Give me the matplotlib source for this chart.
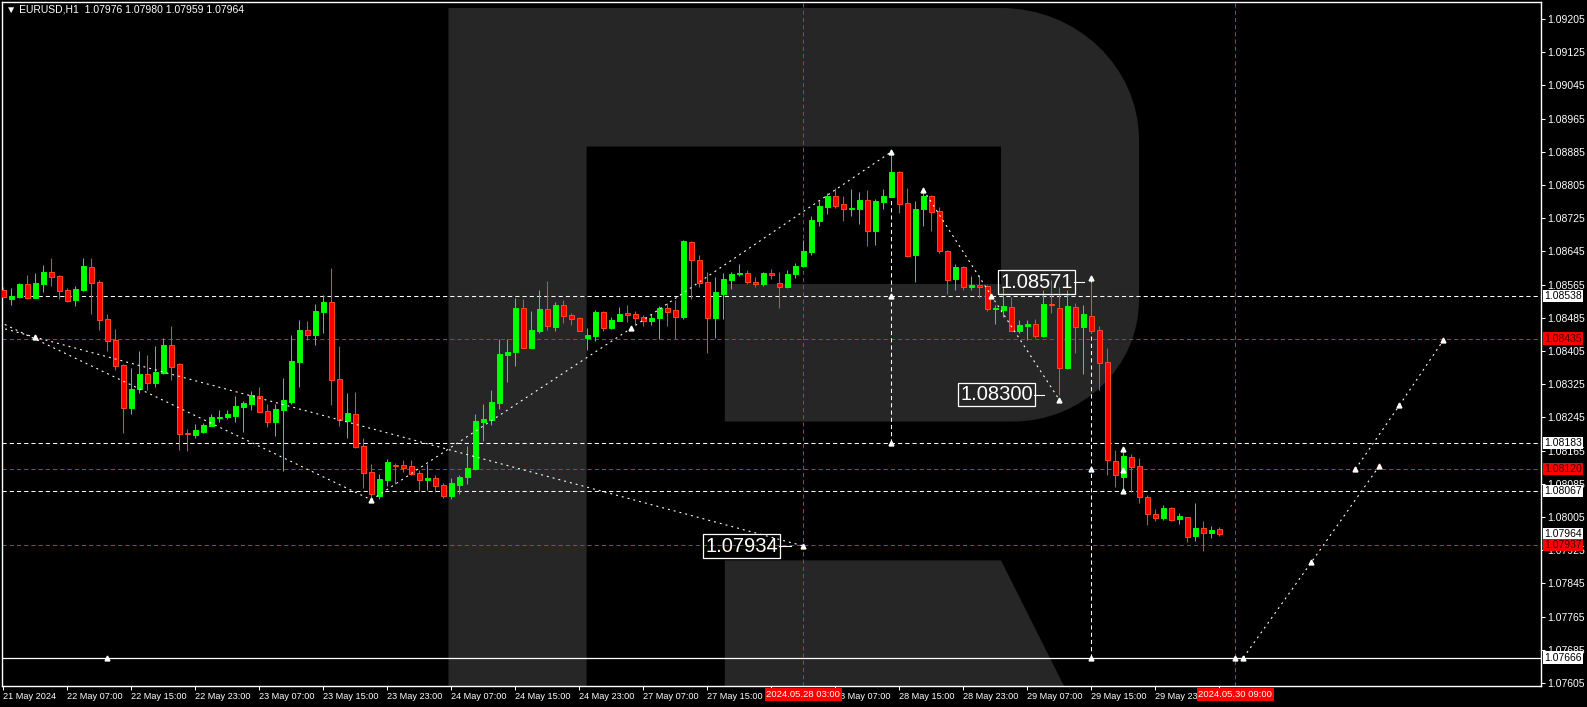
import matplotlib
matplotlib.use("Agg")
import matplotlib.pyplot as plt
from matplotlib.path import Path
from matplotlib.patches import PathPatch, Polygon

plt.rcParams['font.family'] = ['Liberation Sans', 'DejaVu Sans']
plt.rcParams['lines.scale_dashes'] = False

# EURUSD H1 candles, 21 May 23:00 .. 30 May 07:00 (bar index = position)
opens = [1.08553, 1.08531, 1.08536, 1.08566, 1.08533, 1.08567, 1.08595, 1.08585, 1.08553, 1.08528,
         1.08552, 1.08607, 1.08571, 1.08482, 1.08431, 1.08371, 1.08268, 1.08314, 1.08349, 1.08328,
         1.08352, 1.08419, 1.08373, 1.08207, 1.08202, 1.08210, 1.08225, 1.08244, 1.08246, 1.08249,
         1.08270, 1.08278, 1.08296, 1.08260, 1.08234, 1.08263, 1.08283, 1.08379, 1.08455, 1.08443,
         1.08499, 1.08523, 1.08337, 1.08236, 1.08254, 1.08176, 1.08114, 1.08055, 1.08094, 1.08130,
         1.08130, 1.08128, 1.08110, 1.08094, 1.08099, 1.08082, 1.08055, 1.08082, 1.08101, 1.08120,
         1.08234, 1.08238, 1.08279, 1.08395, 1.08402, 1.08508, 1.08412, 1.08453, 1.08506, 1.08462,
         1.08515, 1.08491, 1.08484, 1.08436, 1.08441, 1.08499, 1.08460, 1.08477, 1.08497, 1.08494,
         1.08487, 1.08477, 1.08485, 1.08509, 1.08504, 1.08488, 1.08667, 1.08624, 1.08571, 1.08485,
         1.08543, 1.08577, 1.08591, 1.08593, 1.08571, 1.08567, 1.08593, 1.08569, 1.08558, 1.08591,
         1.08610, 1.08644, 1.08717, 1.08753, 1.08778, 1.08759, 1.08746, 1.08748, 1.08769, 1.08695,
         1.08765, 1.08777, 1.08836, 1.08762, 1.08636, 1.08746, 1.08778, 1.08742, 1.08646, 1.08578,
         1.08607, 1.08558, 1.08565, 1.08562, 1.08506, 1.08504, 1.08510, 1.08454, 1.08466, 1.08470,
         1.08442, 1.08518, 1.08508, 1.08365, 1.08510, 1.08462, 1.08490, 1.08455, 1.08378, 1.08140,
         1.08102, 1.08149, 1.08128, 1.08052, 1.08012, 1.08003, 1.08026, 1.08001, 1.08004, 1.07958,
         1.07978, 1.07967, 1.07976]
highs = [1.08558, 1.08556, 1.08568, 1.08588, 1.08592, 1.08612, 1.08629, 1.08588, 1.08557, 1.08561,
         1.08629, 1.08629, 1.08576, 1.08494, 1.08458, 1.08373, 1.08364, 1.08405, 1.08395, 1.08416,
         1.08436, 1.08465, 1.08375, 1.08217, 1.08229, 1.08232, 1.08253, 1.08262, 1.08262, 1.08296,
         1.08284, 1.08308, 1.08318, 1.08277, 1.08277, 1.08340, 1.08443, 1.08479, 1.08477, 1.08518,
         1.08539, 1.08605, 1.08418, 1.08303, 1.08306, 1.08195, 1.08132, 1.08108, 1.08145, 1.08134,
         1.08142, 1.08142, 1.08118, 1.08132, 1.08105, 1.08087, 1.08099, 1.08106, 1.08176, 1.08253,
         1.08277, 1.08311, 1.08435, 1.08435, 1.08532, 1.08530, 1.08501, 1.08552, 1.08573, 1.08523,
         1.08528, 1.08496, 1.08487, 1.08460, 1.08503, 1.08501, 1.08487, 1.08511, 1.08515, 1.08501,
         1.08491, 1.08494, 1.08513, 1.08520, 1.08528, 1.08672, 1.08669, 1.08636, 1.08595, 1.08583,
         1.08592, 1.08595, 1.08615, 1.08600, 1.08583, 1.08595, 1.08603, 1.08595, 1.08600, 1.08617,
         1.08672, 1.08730, 1.08766, 1.08786, 1.08798, 1.08778, 1.08795, 1.08788, 1.08793, 1.08771,
         1.08795, 1.08880, 1.08838, 1.08798, 1.08766, 1.08793, 1.08781, 1.08752, 1.08648, 1.08615,
         1.08610, 1.08586, 1.08588, 1.08564, 1.08516, 1.08560, 1.08536, 1.08480, 1.08480, 1.08481,
         1.08552, 1.08576, 1.08560, 1.08552, 1.08521, 1.08516, 1.08571, 1.08464, 1.08411, 1.08166,
         1.08162, 1.08157, 1.08146, 1.08058, 1.08023, 1.08034, 1.08028, 1.08015, 1.08006, 1.08039,
         1.07994, 1.07982, 1.07980]
lows = [1.08534, 1.08516, 1.08533, 1.08530, 1.08532, 1.08548, 1.08562, 1.08531, 1.08522, 1.08514,
        1.08550, 1.08495, 1.08456, 1.08405, 1.08359, 1.08208, 1.08254, 1.08304, 1.08312, 1.08317,
        1.08349, 1.08336, 1.08167, 1.08164, 1.08196, 1.08208, 1.08224, 1.08234, 1.08240, 1.08234,
        1.08210, 1.08263, 1.08257, 1.08222, 1.08201, 1.08116, 1.08277, 1.08319, 1.08431, 1.08419,
        1.08448, 1.08275, 1.08224, 1.08196, 1.08172, 1.08074, 1.08046, 1.08048, 1.08079, 1.08084,
        1.08114, 1.08107, 1.08068, 1.08071, 1.08064, 1.08050, 1.08047, 1.08061, 1.08084, 1.08119,
        1.08188, 1.08227, 1.08266, 1.08330, 1.08369, 1.08411, 1.08411, 1.08449, 1.08455, 1.08453,
        1.08472, 1.08467, 1.08453, 1.08407, 1.08429, 1.08453, 1.08458, 1.08476, 1.08474, 1.08470,
        1.08465, 1.08468, 1.08435, 1.08466, 1.08435, 1.08483, 1.08531, 1.08558, 1.08399, 1.08437,
        1.08483, 1.08554, 1.08586, 1.08567, 1.08558, 1.08562, 1.08578, 1.08509, 1.08557, 1.08582,
        1.08608, 1.08636, 1.08707, 1.08734, 1.08750, 1.08717, 1.08731, 1.08712, 1.08659, 1.08661,
        1.08748, 1.08775, 1.08738, 1.08632, 1.08572, 1.08707, 1.08695, 1.08640, 1.08543, 1.08553,
        1.08553, 1.08553, 1.08533, 1.08502, 1.08471, 1.08488, 1.08452, 1.08448, 1.08431, 1.08437,
        1.08439, 1.08496, 1.08300, 1.08361, 1.08399, 1.08349, 1.08448, 1.08311, 1.08106, 1.08076,
        1.08070, 1.08066, 1.08038, 1.07986, 1.07994, 1.07998, 1.07994, 1.07988, 1.07945, 1.07948,
        1.07924, 1.07954, 1.07959]
closes = [1.08536, 1.08537, 1.08566, 1.08533, 1.08569, 1.08595, 1.08584, 1.08550, 1.08526, 1.08554,
          1.08609, 1.08569, 1.08480, 1.08430, 1.08369, 1.08268, 1.08313, 1.08349, 1.08328, 1.08354,
          1.08419, 1.08367, 1.08205, 1.08205, 1.08214, 1.08227, 1.08245, 1.08246, 1.08254, 1.08273,
          1.08279, 1.08299, 1.08258, 1.08234, 1.08265, 1.08287, 1.08381, 1.08455, 1.08444, 1.08501,
          1.08523, 1.08334, 1.08239, 1.08255, 1.08174, 1.08111, 1.08060, 1.08096, 1.08137, 1.08128,
          1.08124, 1.08108, 1.08094, 1.08099, 1.08079, 1.08055, 1.08086, 1.08101, 1.08122, 1.08236,
          1.08241, 1.08282, 1.08397, 1.08402, 1.08508, 1.08412, 1.08455, 1.08506, 1.08466, 1.08515,
          1.08490, 1.08483, 1.08454, 1.08443, 1.08499, 1.08460, 1.08479, 1.08494, 1.08492, 1.08485,
          1.08478, 1.08484, 1.08509, 1.08500, 1.08488, 1.08670, 1.08623, 1.08568, 1.08485, 1.08547,
          1.08578, 1.08591, 1.08593, 1.08570, 1.08567, 1.08593, 1.08587, 1.08558, 1.08591, 1.08610,
          1.08646, 1.08721, 1.08754, 1.08778, 1.08755, 1.08746, 1.08750, 1.08769, 1.08695, 1.08767,
          1.08778, 1.08836, 1.08760, 1.08634, 1.08746, 1.08778, 1.08741, 1.08647, 1.08577, 1.08607,
          1.08558, 1.08565, 1.08560, 1.08507, 1.08508, 1.08513, 1.08454, 1.08468, 1.08470, 1.08442,
          1.08518, 1.08516, 1.08365, 1.08513, 1.08462, 1.08494, 1.08454, 1.08377, 1.08141, 1.08105,
          1.08153, 1.08126, 1.08054, 1.08011, 1.08002, 1.08026, 1.07998, 1.08007, 1.07956, 1.07978,
          1.07967, 1.07974, 1.07964]

time_labels = ['21 May 2024', '22 May 07:00', '22 May 15:00', '22 May 23:00', '23 May 07:00',
               '23 May 15:00', '23 May 23:00', '24 May 07:00', '24 May 15:00', '24 May 23:00',
               '27 May 07:00', '27 May 15:00', '27 May 23:00', '28 May 07:00', '28 May 15:00',
               '28 May 23:00', '29 May 07:00', '29 May 15:00', '29 May 23:00', '30 May 07:00']
price_ticks = [1.07605, 1.07685, 1.07765, 1.07845, 1.07925, 1.08005, 1.08085, 1.08165, 1.08245,
               1.08325, 1.08405, 1.08485, 1.08565, 1.08645, 1.08725, 1.08805, 1.08885, 1.08965,
               1.09045, 1.09125, 1.09205]

white_levels = [1.08538, 1.08183, 1.08067]
red_levels = [1.08435, 1.08120, 1.07937]
support_level = 1.07666
bid_price = 1.07964

# dotted wave lines: (bar positions, prices)
waves = [([-0.5, 46], [1.08475, 1.08046]),
         ([-0.5, 4, 100], [1.08462, 1.08438, 1.07935]),
         ([46, 78.5, 111], [1.08046, 1.08460, 1.08885]),
         ([115, 123.5, 132], [1.08793, 1.08538, 1.08287]),
         ([155, 163.5, 172], [1.07666, 1.07896, 1.08128]),
         ([169, 174.5, 180], [1.08120, 1.08274, 1.08431])]
wave_marks_x = [4, 46, 78.5, 111, 111, 111, 115, 123.5, 132, 136, 136, 136, 100, 140, 140, 140,
                13, 154, 155, 163.5, 172, 169, 174.5, 180]
wave_marks_y = [1.08438, 1.08046, 1.08460, 1.08885, 1.08538, 1.08183, 1.08793, 1.08538, 1.08287,
                1.08580, 1.08120, 1.07666, 1.07935, 1.08168, 1.08118, 1.08067,
                1.07666, 1.07664, 1.07666, 1.07896, 1.08128, 1.08120, 1.08274, 1.08431]

W, H = 1587, 707
fig = plt.figure(figsize=(W / 100, H / 100), dpi=100, facecolor='black')

# background logo
bg = fig.add_axes([0, 0, 1, 1])
bg.set_xlim(0, W)
bg.set_ylim(H, 0)
bg.axis('off')
logo = '#262626'
verts = [(448.5, 8), (1001, 8), (1077, 8), (1139, 67), (1139, 140), (1139, 300),
         (1139, 367), (1082, 421.5), (1013, 421.5), (724.8, 421.5), (724.8, 284), (1001, 284),
         (1001, 146.5), (586.6, 146.5), (586.6, 686), (448.5, 686), (448.5, 8)]
codes = [Path.MOVETO, Path.LINETO, Path.CURVE4, Path.CURVE4, Path.CURVE4, Path.LINETO,
         Path.CURVE4, Path.CURVE4, Path.CURVE4, Path.LINETO, Path.LINETO, Path.LINETO,
         Path.LINETO, Path.LINETO, Path.LINETO, Path.LINETO, Path.CLOSEPOLY]
bg.add_patch(PathPatch(Path(verts, codes), fc=logo, ec='none'))
bg.add_patch(Polygon([(724.8, 560.4), (1001, 560.4), (1064, 686), (724.8, 686)], fc=logo, ec='none'))

ax = fig.add_axes([2 / W, (H - 686) / H, (1541 - 2) / W, (686 - 2) / H])
ax.set_facecolor('none')
ax.set_xlim(-0.175, 192.2)
ax.set_ylim(1.075975, 1.09246)
for s in ax.spines.values():
    s.set_color('white')
    s.set_linewidth(1)

dash = (0, (3.0, 2.2))
dot = (0, (1.4, 2.9))

for lv in white_levels:
    ax.axhline(lv, color='white', lw=0.75, ls=dash, zorder=2)
for lv in red_levels:
    ax.axhline(lv, color='#ff1a1a', lw=0.75, ls=dash, zorder=2)
ax.axhline(support_level, color='white', lw=0.9, zorder=2)
ax.axvline(100, color='#ff1a1a', lw=0.75, ls=dash, zorder=2)
ax.axvline(154, color='#ff1a1a', lw=0.75, ls=dash, zorder=2)
ax.vlines([111, 136, 140], [1.08183, 1.07666, 1.08067], [1.08885, 1.08580, 1.08168],
          colors='white', lw=0.75, linestyles=dash, zorder=2)

# candles
xs = list(range(len(opens)))
up = [c >= o for o, c in zip(opens, closes)]
wick_col = ['#00ff00' if u else '#ff4500' for u in up]
face_col = ['#00ff00' if u else '#ff0000' for u in up]
edge_col = ['#00ff00' if u else '#ff4a1a' for u in up]
ax.vlines(xs, lows, highs, colors=wick_col, lw=0.75, zorder=3)
bottoms = [min(o, c) for o, c in zip(opens, closes)]
heights = [max(abs(c - o), 0.00002) for o, c in zip(opens, closes)]
ax.bar(xs, heights, bottom=bottoms, width=0.55, color=face_col, edgecolor=edge_col,
       linewidth=0.7, zorder=4)

for bx, by in waves:
    ax.plot(bx, by, color='white', lw=0.8, ls=dot, zorder=5)
ax.plot(wave_marks_x, wave_marks_y, ls='none', marker='^', ms=3.5, color='white', zorder=6)

# price tags on chart
tags = [('1.08571', 133.7, 1.08571, 135.1), ('1.08300', 128.7, 1.08300, 130.1),
        ('1.07934', 96.8, 1.07934, 98.4)]
for txt, tx, ty, cx in tags:
    ax.text(tx, ty, txt, color='white', fontsize=14.5, ha='right', va='center', zorder=7,
            bbox=dict(boxstyle='square,pad=0.12', fc='none', ec='white', lw=0.9))
    ax.plot([tx + 0.15, cx], [ty, ty], color='white', lw=0.8, zorder=7)

# axes ticks
ax.yaxis.tick_right()
ax.set_yticks(price_ticks)
ax.set_yticklabels([f'{p:.5f}' for p in price_ticks])
ax.set_xticks(list(range(0, 8 * len(time_labels), 8)))
ax.set_xticklabels(time_labels)
for lab in ax.get_xticklabels():
    lab.set_horizontalalignment('left')
ax.tick_params(colors='white', length=3, width=0.75, pad=1.5)
ax.tick_params(axis='y', labelsize=7.5)
ax.tick_params(axis='x', labelsize=6.6)

ytr = ax.get_yaxis_transform()
for lv, fc, tc in ([(v, 'white', 'black') for v in white_levels + [support_level, bid_price]] +
                   [(v, '#ff0000', '#400000') for v in red_levels]):
    ax.text(1.0018, lv, f'{lv:.5f}', transform=ytr, ha='left', va='center', fontsize=7.5,
            color=tc, zorder=8, clip_on=False,
            bbox=dict(boxstyle='square,pad=0.12', fc=fc, ec='none'))

xtr = ax.get_xaxis_transform()
for bx, txt in [(100, '2024.05.28 03:00'), (154, '2024.05.30 09:00')]:
    ax.text(bx, -0.006, txt, transform=xtr, ha='center', va='top', fontsize=6.8, color='white',
            zorder=8, clip_on=False, bbox=dict(boxstyle='square,pad=0.2', fc='#ff0000', ec='none'))

fig.text(6 / W, 1 - 10 / H, '\u25bc EURUSD,H1  1.07976 1.07980 1.07959 1.07964', color='white',
         fontsize=7.5, va='center', ha='left')

fig.savefig('out.png', dpi=100, facecolor='black')
